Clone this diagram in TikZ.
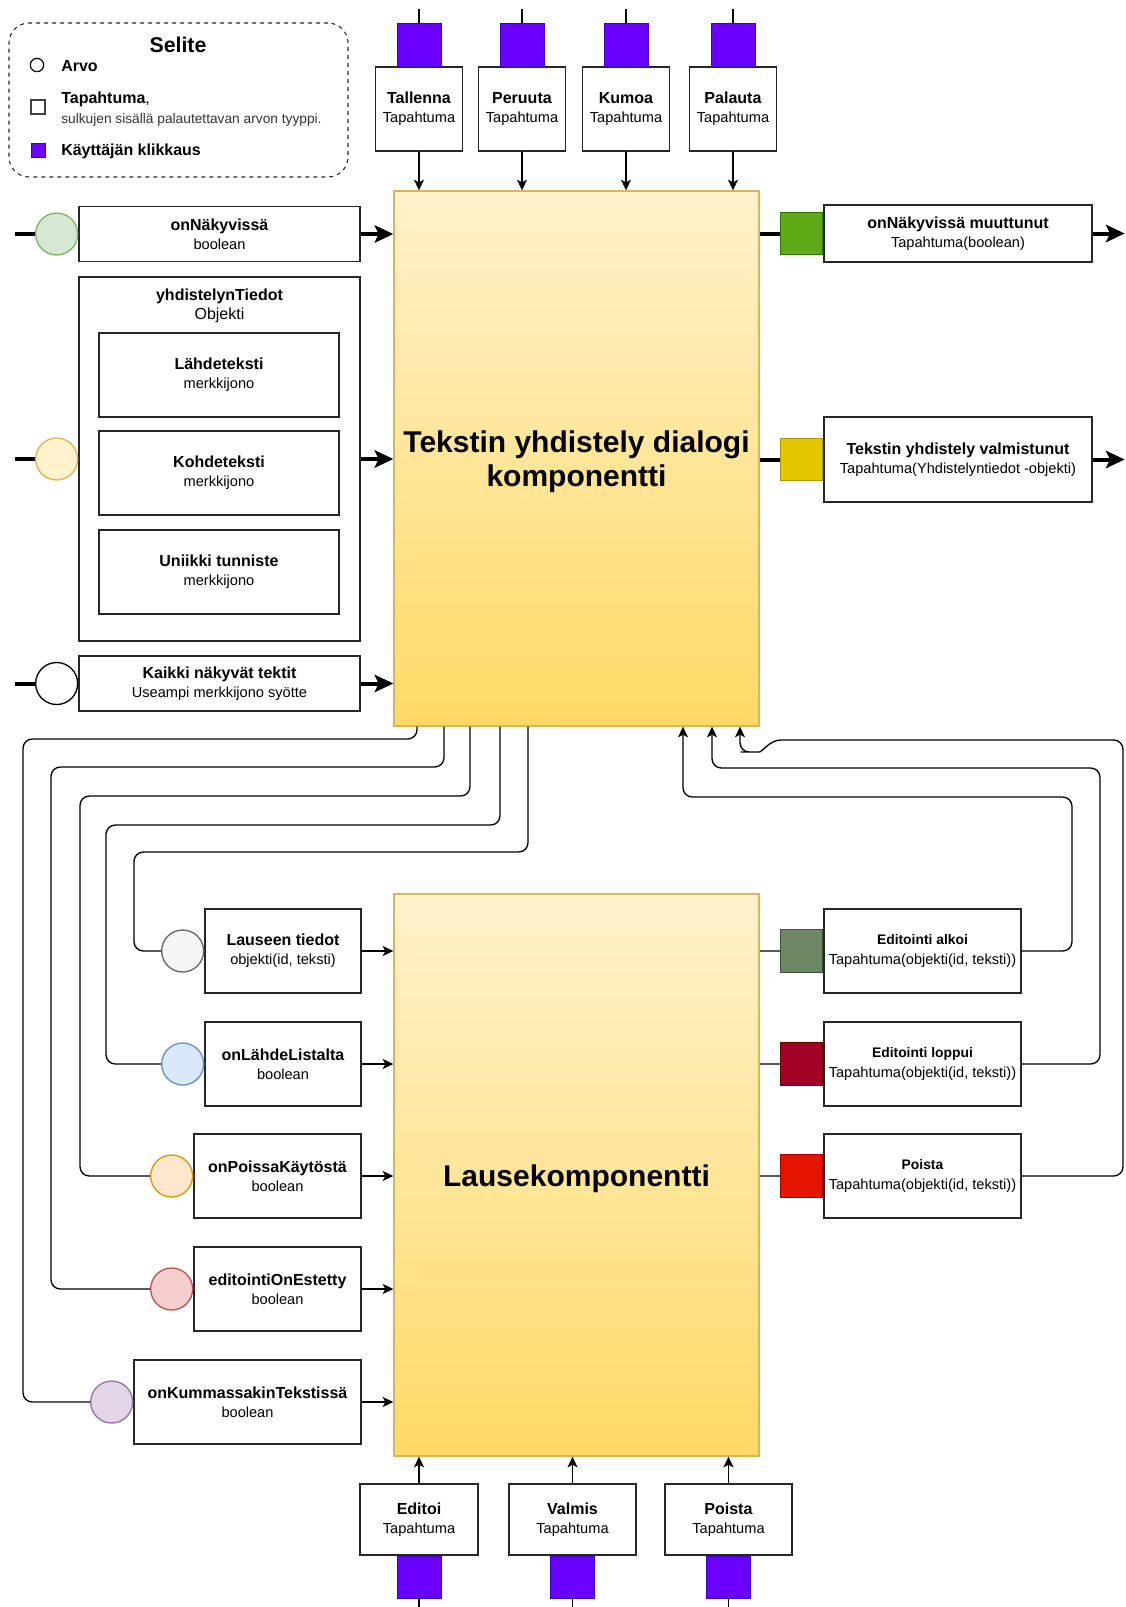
\documentclass[tikz,border=0pt,12pt]{standalone}
\usepackage{fontspec}
\setmainfont{Liberation Sans}
\usetikzlibrary{positioning, arrows.meta}
\definecolor{klikki}{HTML}{6A00FF}
\definecolor{klikkiline}{HTML}{3700CC}
\definecolor{dlgtop}{HTML}{FFF2CC}
\definecolor{dlgbot}{HTML}{FFD966}
\definecolor{dlgline}{HTML}{D6B656}
\definecolor{vihrea}{HTML}{60A917}
\definecolor{vihrealine}{HTML}{2D7600}
\definecolor{keltainen}{HTML}{E3C800}
\definecolor{keltainenline}{HTML}{B09500}
\definecolor{salvia}{HTML}{6D8764}
\definecolor{salvialine}{HTML}{3A5431}
\definecolor{viini}{HTML}{A20025}
\definecolor{viiniline}{HTML}{6F0000}
\definecolor{punainen}{HTML}{E51400}
\definecolor{punainenline}{HTML}{B20000}
\definecolor{vihreaC}{HTML}{D5E8D4}
\definecolor{vihreaCline}{HTML}{82B366}
\definecolor{keltainenC}{HTML}{FFF2CC}
\definecolor{keltainenCline}{HTML}{D6B656}
\definecolor{harmaaC}{HTML}{F5F5F5}
\definecolor{harmaaCline}{HTML}{666666}
\definecolor{sininenC}{HTML}{DAE8FC}
\definecolor{sininenCline}{HTML}{6C8EBF}
\definecolor{oranssiC}{HTML}{FFE6CC}
\definecolor{oranssiCline}{HTML}{D79B00}
\definecolor{punainenC}{HTML}{F8CECC}
\definecolor{punainenCline}{HTML}{B85450}
\definecolor{violettiC}{HTML}{E1D5E7}
\definecolor{violettiCline}{HTML}{9673A6}
\tikzset{
  laatikko/.style={draw=black!85, fill=white, line width=1pt, align=center, inner sep=2pt},
  komponentti/.style={draw=dlgline, line width=1pt, top color=dlgtop, bottom color=dlgbot,
    minimum width=273.75pt},
  otsikko/.style={align=center, font=\fontsize{22.5}{26}\selectfont\bfseries},
  arvo/.style={circle, line width=1pt, minimum size=31.5pt, inner sep=0pt},
  merkki/.style={minimum width=31.5pt, minimum height=32pt, inner sep=0pt, line width=0.8pt},
  klikkaus/.style={draw=klikkiline, fill=klikki, minimum width=33pt, minimum height=32pt, inner sep=0pt},
  paksu/.style={line width=3pt},
  paksunuoli/.style={paksu, -{Stealth[length=14pt,width=13pt,inset=3pt]}},
  nuoli/.style={line width=1pt, -{Stealth[length=8pt,width=7.5pt,inset=2pt]}},
  linkki/.style={line width=1pt, rounded corners=7pt}
}

\begin{document}
\begin{tikzpicture}[x=0.75pt, y=-0.75pt]
  \useasboundingbox (0,0) rectangle (1125,1607);

  % selite
  \node[draw=black!85, dashed, rounded corners=15pt, line width=0.8pt,
        minimum width=254.25pt, minimum height=115.5pt] (selite) at (178.5,100) {};
  \node[anchor=base, inner sep=0pt, font=\fontsize{16}{19}\selectfont\bfseries] (selite-otsikko) at (178,52) {Selite};
  \node[circle, draw, line width=0.9pt, minimum size=10pt, inner sep=0pt] (selite-arvo) at (37,65) {};
  \node[anchor=base west, inner sep=0pt, font=\bfseries] (selite-arvoteksti) at (61,71) {Arvo};
  \node[draw=black!75, fill=white, line width=0.9pt, minimum size=10.5pt, inner sep=0pt] (selite-tap) at (38,107) {};
  \node[anchor=base west, inner sep=0pt] (selite-tapteksti) at (61,103) {\textbf{Tapahtuma},};
  \node[anchor=base west, inner sep=0pt, font=\fontsize{10.3}{12}\selectfont, text=black!80] (selite-sulut) at (61,123) {sulkujen sisällä palautettavan arvon tyyppi.};
  \node[klikkaus, minimum width=10.5pt, minimum height=10.5pt] (selite-klik) at (38,150) {};
  \node[anchor=base west, inner sep=0pt, font=\bfseries] (selite-klikteksti) at (61,155) {Käyttäjän klikkaus};

  % dialogi
  \node[komponentti, minimum height=401.25pt] (dlg) at (576.5,458.5) {};
  \node[otsikko, yshift=-2.5pt] (dlg-otsikko) at (dlg) {Tekstin yhdistely dialogi\\komponentti};

  % ylhaalla tapahtumat
  \node[laatikko, minimum width=65.25pt, minimum height=63pt] (tallenna) at (419,109) {\textbf{Tallenna}\\{\small Tapahtuma}};
  \node[laatikko, minimum width=65.25pt, minimum height=63pt] (peruuta) at (522,109) {\textbf{Peruuta}\\{\small Tapahtuma}};
  \node[laatikko, minimum width=65.25pt, minimum height=63pt] (kumoa) at (626,109) {\textbf{Kumoa}\\{\small Tapahtuma}};
  \node[laatikko, minimum width=65.25pt, minimum height=63pt] (palauta) at (733,109) {\textbf{Palauta}\\{\small Tapahtuma}};
  \node[klikkaus, above=0pt of tallenna] (tallenna-k) {};
  \node[klikkaus, above=0pt of peruuta] (peruuta-k) {};
  \node[klikkaus, above=0pt of kumoa] (kumoa-k) {};
  \node[klikkaus, above=0pt of palauta] (palauta-k) {};
  \draw[line width=1pt] (tallenna-k.north) -- ++(0,-14);
  \draw[line width=1pt] (peruuta-k.north) -- ++(0,-14);
  \draw[line width=1pt] (kumoa-k.north) -- ++(0,-14);
  \draw[line width=1pt] (palauta-k.north) -- ++(0,-14);
  \draw[nuoli] (tallenna) -- (tallenna |- dlg.north);
  \draw[nuoli] (peruuta) -- (peruuta |- dlg.north);
  \draw[nuoli] (kumoa) -- (kumoa |- dlg.north);
  \draw[nuoli] (palauta) -- (palauta |- dlg.north);

  % dialogin syotteet
  \node[laatikko, minimum width=210.75pt, minimum height=41.25pt] (nakyvissa) at (219.5,234) {\textbf{onNäkyvissä}\\{\small boolean}};
  \node[arvo, fill=vihreaC, draw=vihreaCline, left=0pt of nakyvissa] (nakyvissa-a) {};
  \draw[paksu] (nakyvissa-a.west) -- ++(-20,0);
  \draw[paksunuoli] (nakyvissa) -- (nakyvissa -| dlg.west);

  \node[laatikko, minimum width=210.75pt, minimum height=273pt] (tiedot) at (219.5,459) {};
  \node[below=5pt of tiedot.north, align=center] (tiedot-otsikko) {\textbf{yhdistelynTiedot}\\Objekti};
  \node[laatikko, minimum width=180pt, minimum height=63pt] (lahde) at (219,375) {\textbf{Lähdeteksti}\\{\small merkkijono}};
  \node[laatikko, minimum width=180pt, minimum height=63pt] (kohde) at (219,473) {\textbf{Kohdeteksti}\\{\small merkkijono}};
  \node[laatikko, minimum width=180pt, minimum height=63pt] (tunniste) at (219,572) {\textbf{Uniikki tunniste}\\{\small merkkijono}};
  \node[arvo, fill=keltainenC, draw=keltainenCline, left=0pt of tiedot] (tiedot-a) {};
  \draw[paksu] (tiedot-a.west) -- ++(-20,0);
  \draw[paksunuoli] (tiedot) -- (tiedot -| dlg.west);

  \node[laatikko, minimum width=210.75pt, minimum height=41.25pt] (tekstit) at (219.5,683.5) {\textbf{Kaikki näkyvät tektit}\\{\small Useampi merkkijono syötte}};
  \node[arvo, fill=white, draw=black, left=0pt of tekstit] (tekstit-a) {};
  \draw[paksu] (tekstit-a.west) -- ++(-20,0);
  \draw[paksunuoli] (tekstit) -- (tekstit -| dlg.west);

  % dialogin tapahtumat
  \node[laatikko, minimum width=201pt, minimum height=42.75pt] (muuttunut) at (958,233.5) {\textbf{onNäkyvissä muuttunut}\\{\small Tapahtuma(boolean)}};
  \node[merkki, fill=vihrea, draw=vihrealine, left=0pt of muuttunut] (muuttunut-m) {};
  \draw[paksu] (muuttunut-m) -- (muuttunut-m -| dlg.east);
  \draw[paksunuoli] (muuttunut.east) -- ++(32,0);

  \node[laatikko, minimum width=201pt, minimum height=63.75pt] (valmistunut) at (958,459.5) {\textbf{Tekstin yhdistely valmistunut}\\{\small Tapahtuma(Yhdistelyntiedot -objekti)}};
  \node[merkki, fill=keltainen, draw=keltainenline, left=0pt of valmistunut] (valmistunut-m) {};
  \draw[paksu] (valmistunut-m) -- (valmistunut-m -| dlg.east);
  \draw[paksunuoli] (valmistunut.east) -- ++(32,0);

  % lausekomponentti
  \node[komponentti, minimum height=421.5pt] (lause) at (576.5,1175) {};
  \node[otsikko, yshift=-2.5pt] (lause-otsikko) at (lause) {Lausekomponentti};

  \node[laatikko, minimum width=117pt, minimum height=63pt] (lauseen) at (283,951) {\textbf{Lauseen tiedot}\\{\small objekti(id, teksti)}};
  \node[arvo, fill=harmaaC, draw=harmaaCline, left=0pt of lauseen] (lauseen-a) {};
  \node[laatikko, minimum width=117pt, minimum height=63pt] (listalta) at (283,1064) {\textbf{onLähdeListalta}\\{\small boolean}};
  \node[arvo, fill=sininenC, draw=sininenCline, left=0pt of listalta] (listalta-a) {};
  \node[laatikko, minimum width=125.25pt, minimum height=63pt] (poissa) at (277.5,1176) {\textbf{onPoissaKäytöstä}\\{\small boolean}};
  \node[arvo, fill=oranssiC, draw=oranssiCline, left=0pt of poissa] (poissa-a) {};
  \node[laatikko, minimum width=125.25pt, minimum height=63pt] (estetty) at (277.5,1289) {\textbf{editointiOnEstetty}\\{\small boolean}};
  \node[arvo, fill=punainenC, draw=punainenCline, left=0pt of estetty] (estetty-a) {};
  \node[laatikko, minimum width=170.25pt, minimum height=63pt] (kummassakin) at (247.5,1402) {\textbf{onKummassakinTekstissä}\\{\small boolean}};
  \node[arvo, fill=violettiC, draw=violettiCline, left=0pt of kummassakin] (kummassakin-a) {};
  \draw[nuoli] (lauseen) -- (lauseen -| lause.west);
  \draw[nuoli] (listalta) -- (listalta -| lause.west);
  \draw[nuoli] (poissa) -- (poissa -| lause.west);
  \draw[nuoli] (estetty) -- (estetty -| lause.west);
  \draw[nuoli] (kummassakin) -- (kummassakin -| lause.west);

  % dialogista lauseelle
  \draw[linkki] (dlg.south -| 417,0) |- (23,739) |- (kummassakin-a.west);
  \draw[linkki] (dlg.south -| 444,0) |- (51,767) |- (estetty-a.west);
  \draw[linkki] (dlg.south -| 470,0) |- (80,796) |- (poissa-a.west);
  \draw[linkki] (dlg.south -| 500,0) |- (106,825) |- (listalta-a.west);
  \draw[linkki] (dlg.south -| 528,0) |- (134,852) |- (lauseen-a.west);

  % lauseen tapahtumat
  \node[laatikko, minimum width=147.75pt, minimum height=63pt] (alkoi) at (922.5,951) {{\fontsize{10.4}{12.5}\selectfont\bfseries Editointi alkoi}\\{\small Tapahtuma(objekti(id, teksti))}};
  \node[merkki, fill=salvia, draw=salvialine, left=0pt of alkoi] (alkoi-m) {};
  \node[laatikko, minimum width=147.75pt, minimum height=63pt] (loppui) at (922.5,1064) {{\fontsize{10.4}{12.5}\selectfont\bfseries Editointi loppui}\\{\small Tapahtuma(objekti(id, teksti))}};
  \node[merkki, fill=viini, draw=viiniline, left=0pt of loppui] (loppui-m) {};
  \node[laatikko, minimum width=147.75pt, minimum height=63pt] (poisto) at (922.5,1176) {{\fontsize{10.4}{12.5}\selectfont\bfseries Poista}\\{\small Tapahtuma(objekti(id, teksti))}};
  \node[merkki, fill=punainen, draw=punainenline, left=0pt of poisto] (poisto-m) {};
  \draw[line width=1pt, black!65] (alkoi-m) -- (alkoi-m -| lause.east);
  \draw[line width=1pt, black!65] (loppui-m) -- (loppui-m -| lause.east);
  \draw[line width=1pt, black!65] (poisto-m) -- (poisto-m -| lause.east);

  % takaisin dialogille
  \draw[linkki, nuoli] (alkoi.east) -| (1072,797) -| (dlg.south -| 683,0);
  \draw[linkki, nuoli] (loppui.east) -| (1100,768) -| (dlg.south -| 712,0);
  \draw[linkki, nuoli] (poisto.east) -| (1123,740) -- (790,740)
    .. controls (770,740) and (762,752) .. (750,752) -| (dlg.south -| 740,0);

  % alhaalla tapahtumat
  \node[laatikko, minimum width=88.5pt, minimum height=53.25pt] (editoi) at (419,1519.5) {\textbf{Editoi}\\{\small Tapahtuma}};
  \node[laatikko, minimum width=95.25pt, minimum height=53.25pt] (valmis) at (572.5,1519.5) {\textbf{Valmis}\\{\small Tapahtuma}};
  \node[laatikko, minimum width=95.25pt, minimum height=53.25pt] (poista) at (728.5,1519.5) {\textbf{Poista}\\{\small Tapahtuma}};
  \node[klikkaus, minimum height=31.5pt, below=0pt of editoi] (editoi-k) {};
  \node[klikkaus, minimum height=31.5pt, below=0pt of valmis] (valmis-k) {};
  \node[klikkaus, minimum height=31.5pt, below=0pt of poista] (poista-k) {};
  \draw[line width=1pt] (editoi-k.south) -- ++(0,12);
  \draw[line width=1pt] (valmis-k.south) -- ++(0,12);
  \draw[line width=1pt] (poista-k.south) -- ++(0,12);
  \draw[nuoli] (editoi) -- (editoi |- lause.south);
  \draw[nuoli] (valmis) -- (valmis |- lause.south);
  \draw[nuoli] (poista) -- (poista |- lause.south);
\end{tikzpicture}
\end{document}
